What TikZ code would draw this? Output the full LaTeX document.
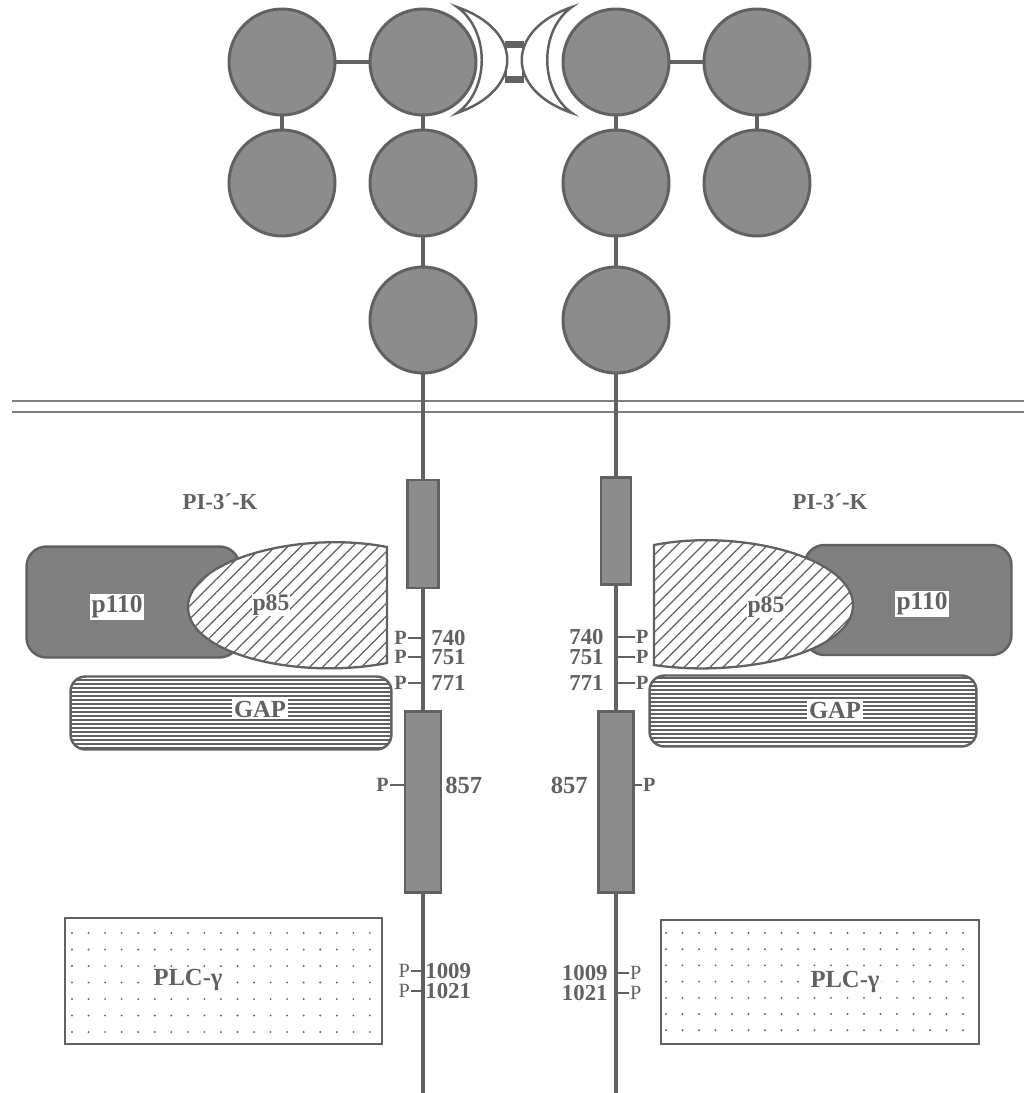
\documentclass[tikz,border=0pt]{standalone}
\usepackage{fontspec}
\setmainfont{Liberation Serif}
\usepackage{tikz}
\usetikzlibrary{patterns.meta}
\colorlet{ink}{black!62}

\begin{document}
\begin{tikzpicture}[x=0.02cm, y=-0.02cm,
  font=\bfseries\fontsize{12.5}{14}\selectfont, text=ink,
  dom/.style={circle, draw=ink, fill=black!45, line width=1.7pt,
              minimum size=2.12cm, inner sep=0pt},
  stem/.style={draw=ink, line width=2.3pt},
  kin/.style={draw=ink, fill=black!45, line width=1.4pt, inner sep=0pt},
  tick/.style={draw=ink, line width=0.9pt},
  ptag/.style={inner sep=0.5pt, font=\bfseries\fontsize{11.5}{12}\selectfont},
  ptaglite/.style={inner sep=0.5pt, font=\mdseries\fontsize{11.5}{11}\selectfont},
  site/.style={inner sep=0pt, font=\bfseries\fontsize{13}{12}\selectfont},
  tag/.style={fill=white, inner sep=1pt},
  bigtag/.style={tag, font=\bfseries\fontsize{14}{14}\selectfont},
  subunit/.style={draw=ink, fill=black!50, line width=1.4pt, rounded corners=0.4cm,
                  inner sep=0pt},
  gapbox/.style={draw=ink, line width=1.4pt, rounded corners=0.3cm, inner sep=0pt},
  regbox/.style={draw=ink, line width=1.3pt,
                 preaction={fill=white},
                 pattern={Lines[angle=45, distance=5.2pt, line width=0.7pt]},
                 pattern color=ink},
  plcbox/.style={draw=ink, line width=1.3pt, inner sep=0pt},
  memb/.style={draw=black!50, line width=1.1pt}]
  \useasboundingbox (0,0) rectangle (1024,1093);

  \draw[memb] (12,401) -- (1024,401);
  \draw[memb] (12,412) -- (1024,412);

  \node[dom] (lo1) at (282,62) {};
  \node[dom] (lo2) at (282,183) {};
  \node[dom] (l1) at (423,62) {};
  \node[dom] (l2) at (423,183) {};
  \node[dom] (l3) at (423,320) {};
  \node[dom] (r1) at (616,62) {};
  \node[dom] (r2) at (616,183) {};
  \node[dom] (r3) at (616,320) {};
  \node[dom] (ro1) at (757,62) {};
  \node[dom] (ro2) at (757,183) {};
  \draw[stem] (lo1) -- (l1);
  \draw[stem] (lo1) -- (lo2);
  \draw[stem] (l1) -- (l2);
  \draw[stem] (l2) -- (l3);
  \draw[stem] (r1) -- (ro1);
  \draw[stem] (ro1) -- (ro2);
  \draw[stem] (r1) -- (r2);
  \draw[stem] (r2) -- (r3);

  \draw[ink, line width=0.9pt] (506,42) rectangle (523,82);
  \fill[ink] (506,42) rectangle (523,48);
  \fill[ink] (506,76) rectangle (523,82);
  \draw[ink, fill=white, line width=1.4pt] (457,7) .. controls (524,30) and (524,90) .. (457,113)
    .. controls (490,90) and (490,30) .. (457,7) -- cycle;
  \draw[ink, fill=white, line width=1.4pt] (572,7) .. controls (505,30) and (505,90) .. (572,113)
    .. controls (539,90) and (539,30) .. (572,7) -- cycle;

  \node[kin, minimum width=0.62cm, minimum height=2.16cm] (lka) at (423,534) {};
  \node[kin, minimum width=0.72cm, minimum height=3.62cm] (lkb) at (423,802) {};
  \node[kin, minimum width=0.6cm, minimum height=2.14cm] (rka) at (616,531) {};
  \node[kin, minimum width=0.7cm, minimum height=3.62cm] (rkb) at (616,802) {};
  \coordinate (lend) at (423,1093);
  \coordinate (rend) at (616,1093);
  \draw[stem] (l3) -- (lka);
  \draw[stem] (lka) -- (lkb);
  \draw[stem] (lkb) -- (lend);
  \draw[stem] (r3) -- (rka);
  \draw[stem] (rka) -- (rkb);
  \draw[stem] (rkb) -- (rend);

  \node[font=\bfseries\fontsize{13}{14}\selectfont] (pikl) at (220,502) {PI-3´-K};
  \node[font=\bfseries\fontsize{13}{14}\selectfont] (pikr) at (830,502) {PI-3´-K};

  \node[subunit, minimum width=4.26cm, minimum height=2.22cm] (lp110) at (133,602) {};
  \node[subunit, minimum width=4.14cm, minimum height=2.2cm] (rp110) at (908,600) {};
  \draw[regbox] (387,547) .. controls (300,530) and (188,560) .. (188,607)
    .. controls (188,655) and (300,680) .. (387,663) -- cycle;
  \draw[regbox] (654,545) .. controls (741,528) and (853,558) .. (853,605)
    .. controls (853,653) and (741,678) .. (654,665) -- cycle;
  \node[bigtag, font=\bfseries\fontsize{14.5}{14}\selectfont] (lp110t) at (117,607) {p110};
  \node[bigtag, font=\bfseries\fontsize{14.5}{14}\selectfont] (rp110t) at (922,604) {p110};
  \node[bigtag, inner sep=0.5pt, font=\bfseries\fontsize{13.5}{14}\selectfont] (lp85t) at (271,605) {p85};
  \node[bigtag, inner sep=0.5pt, font=\bfseries\fontsize{13.5}{14}\selectfont] (rp85t) at (766,607) {p85};

  \node[inner sep=0pt, minimum width=6.42cm, minimum height=1.46cm] (lgap) at (231,713) {};
  \node[inner sep=0pt, minimum width=6.54cm, minimum height=1.42cm] (rgap) at (813,711) {};
  \begin{scope}
    \clip[rounded corners=0.3cm] (lgap.south west) rectangle (lgap.north east);
    \foreach \k in {0,...,17}
      \draw[ink, line width=0.6pt] (lgap.west |- 0,{680+4*\k}) -- (lgap.east |- 0,{680+4*\k});
  \end{scope}
  \begin{scope}
    \clip[rounded corners=0.3cm] (rgap.south west) rectangle (rgap.north east);
    \foreach \k in {0,...,17}
      \draw[ink, line width=0.6pt] (rgap.west |- 0,{678+4*\k}) -- (rgap.east |- 0,{678+4*\k});
  \end{scope}
  \node[gapbox, minimum width=6.42cm, minimum height=1.46cm] (lgapframe) at (lgap.center) {};
  \node[gapbox, minimum width=6.54cm, minimum height=1.42cm] (rgapframe) at (rgap.center) {};
  \node[bigtag] (lgapt) at (260,709) {GAP};
  \node[bigtag] (rgapt) at (835,710) {GAP};

  \node[plcbox, minimum width=6.34cm, minimum height=2.52cm] (lplc) at (223.5,981) {};
  \node[plcbox, minimum width=6.36cm, minimum height=2.48cm] (rplc) at (820,982) {};
  \foreach \i in {0,...,18}
    \foreach \j in {0,...,6} {
      \fill[ink] (72+16.55*\i, 933+16.5*\j) circle (0.6pt);
      \fill[ink] (666+16.5*\i, 933+16.2*\j) circle (0.6pt);
    }
  \node[bigtag] (lplct) at (188,980) {PLC-γ};
  \node[bigtag] (rplct) at (845,982) {PLC-γ};

  \node[ptag, anchor=east] (pl740) at (408,638) {P};
  \node[ptag, anchor=east] (pl751) at (408,657) {P};
  \node[ptag, anchor=east] (pl771) at (408,683) {P};
  \node[site, anchor=west] (nl740) at (431,638) {740};
  \node[site, anchor=west] (nl751) at (431,657) {751};
  \node[site, anchor=west] (nl771) at (431,683) {771};
  \draw[tick] (pl740) -- (pl740 -| lend);
  \draw[tick] (pl751) -- (pl751 -| lend);
  \draw[tick] (pl771) -- (pl771 -| lend);
  \node[ptag, anchor=west] (pr740) at (635,637) {P};
  \node[ptag, anchor=west] (pr751) at (635,657) {P};
  \node[ptag, anchor=west] (pr771) at (635,683) {P};
  \node[site, anchor=east] (nr740) at (604,637) {740};
  \node[site, anchor=east] (nr751) at (604,657) {751};
  \node[site, anchor=east] (nr771) at (604,683) {771};
  \draw[tick] (pr740) -- (pr740 -| rend);
  \draw[tick] (pr751) -- (pr751 -| rend);
  \draw[tick] (pr771) -- (pr771 -| rend);

  \node[ptag, anchor=east] (pl857) at (390,785) {P};
  \node[site, anchor=west, font=\bfseries\fontsize{14}{14}\selectfont] (nl857) at (445,785) {857};
  \draw[tick] (pl857) -- (pl857 -| lkb.west);
  \node[ptag, anchor=west] (pr857) at (642,785) {P};
  \node[site, anchor=east, font=\bfseries\fontsize{14}{14}\selectfont] (nr857) at (588,785) {857};
  \draw[tick] (pr857) -- (pr857 -| rkb.east);

  \node[ptaglite, anchor=east] (pl1009) at (411,971) {P};
  \node[ptaglite, anchor=east] (pl1021) at (411,991) {P};
  \node[site, anchor=west, font=\bfseries\fontsize{13}{12}\selectfont] (nl1009) at (425,971) {1009};
  \node[site, anchor=west, font=\bfseries\fontsize{13}{12}\selectfont] (nl1021) at (425,991) {1021};
  \draw[tick] (pl1009) -- (pl1009 -| lend);
  \draw[tick] (pl1021) -- (pl1021 -| lend);
  \node[ptaglite, anchor=west] (pr1009) at (629,973) {P};
  \node[ptaglite, anchor=west] (pr1021) at (629,993) {P};
  \node[site, anchor=east, font=\bfseries\fontsize{13}{12}\selectfont] (nr1009) at (608,973) {1009};
  \node[site, anchor=east, font=\bfseries\fontsize{13}{12}\selectfont] (nr1021) at (608,993) {1021};
  \draw[tick] (pr1009) -- (pr1009 -| rend);
  \draw[tick] (pr1021) -- (pr1021 -| rend);
\end{tikzpicture}
\end{document}
